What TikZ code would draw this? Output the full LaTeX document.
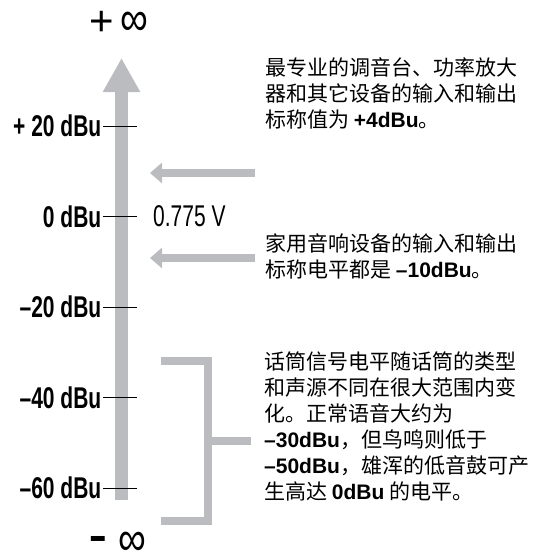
\documentclass[tikz,border=0pt]{standalone}
\usepackage{fontspec}
\setmainfont{Liberation Sans}
\newfontfamily\cjk{Noto Sans CJK SC}
\newfontfamily\narrowfont[FakeStretch=0.7]{Liberation Sans}
\usetikzlibrary{arrows.meta}
\definecolor{barGray}{RGB}{187,188,191}
\newcommand{\dbu}[1]{{\normalfont\bfseries #1}}
\newcommand{\infsign}{\scalebox{1}[1.25]{\fontsize{39}{39}\selectfont ∞}}
\newcommand{\levelTick}[3]{%%
  \coordinate (#1) at (\barx,#2);
  \draw[tickStyle] ([xshift=-18.5pt]#1) -- ([xshift=15.5pt]#1);
  \node[levelStyle] (#1Label) at ([xshift=-20pt]#1) {#3};
}

\begin{document}
\begin{tikzpicture}[x=1pt,y=-1pt,%%
  barStyle/.style={-{Triangle[width=35pt,length=34pt]},line width=13pt,barGray},%%
  pointerStyle/.style={-{Triangle[width=20pt,length=12pt]},line width=8pt,barGray},%%
  bracketStyle/.style={line width=8pt,barGray,miter limit=10},%%
  tickStyle/.style={black,line width=0.8pt},%%
  levelStyle/.style={anchor=east,inner sep=0pt,font=\narrowfont\bfseries\fontsize{30}{30}\selectfont},%%
  infStyle/.style={anchor=base,inner sep=0pt,text height=20pt,text depth=0pt,font=\fontsize{42}{42}\selectfont},%%
  noteStyle/.style={anchor=north west,inner sep=0pt,align=left,font=\cjk\fontsize{21}{26}\selectfont}%%
]
\useasboundingbox (0,0) rectangle (541,555);
%%
\pgfmathsetmacro{\barx}{121.5}
\pgfmathsetmacro{\levelgap}{90.5}
\pgfmathsetmacro{\ytop}{126}
%%
\coordinate (barBottom) at (\barx,500);
\coordinate (barTop) at (\barx,58);
%% The level axis.
\draw[barStyle] (barBottom) -- (barTop);
\node[infStyle] (plusInf) at (119,35) {+\hspace{6pt}\infsign};
\node[infStyle] (minusInf) at (118.5,555) {\raisebox{3pt}{\fontsize{28}{28}\selectfont\bfseries\scalebox{1}[1.8]{–}}\hspace{13pt}\infsign};
%% Ticks and their levels.
\levelTick{lvlA}{\ytop}{+ 20 dBu}
\levelTick{lvlB}{\ytop+\levelgap}{0 dBu}
\levelTick{lvlC}{\ytop+2*\levelgap}{–20 dBu}
\levelTick{lvlD}{\ytop+3*\levelgap}{–40 dBu}
\levelTick{lvlE}{\ytop+4*\levelgap}{–60 dBu}
\node[anchor=west,inner sep=0pt,font=\narrowfont\fontsize{30}{30}\selectfont] (volts) at (153,216) {0.775 V};
%%
%% Pointers from the notes.
\coordinate (proStart) at (255,173);
\coordinate (proEnd) at (150,173);
\coordinate (homeStart) at (255,258);
\coordinate (homeEnd) at (150,258);
\draw[pointerStyle] (proStart) -- (proEnd);
\draw[pointerStyle] (homeStart) -- (homeEnd);
%% The microphone range.
\coordinate (micTop) at (161,361);
\coordinate (micTopRight) at (208,361);
\coordinate (micBottomRight) at (208,521);
\coordinate (micBottom) at (161,521);
\coordinate (micMid) at (208,441);
\coordinate (micStub) at (251,441);
\draw[bracketStyle] (micTop) -- (micTopRight) -- (micBottomRight) -- (micBottom);
\draw[bracketStyle] (micMid) -- (micStub);
%%
%% The notes.
\node[noteStyle] (proNote) at (265,57) {最专业的调音台、功率放大\\器和其它设备的输入和输出\\标称值为 \dbu{+4dBu}。};
\node[noteStyle] (homeNote) at (265,233) {家用音响设备的输入和输出\\标称电平都是 \dbu{–10dBu}。};
\node[noteStyle] (micNote) at (264,352) {话筒信号电平随话筒的类型\\和声源不同在很大范围内变\\化。正常语音大约为\\\dbu{–30dBu}，但鸟鸣则低于\\\dbu{–50dBu}，雄浑的低音鼓可产\\生高达 \dbu{0dBu} 的电平。};
\end{tikzpicture}
\end{document}
